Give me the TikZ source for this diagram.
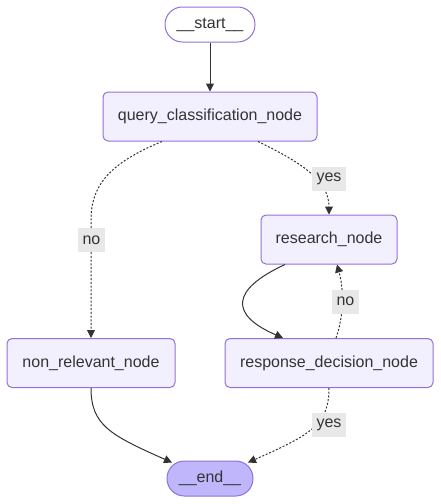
\documentclass[tikz,border=0pt]{standalone}
\usepackage{fontspec}
\setmainfont{Liberation Sans}
\usepackage{xcolor}
\usetikzlibrary{arrows.meta,calc}

\definecolor{nodefill}{HTML}{F2F0FF}
\definecolor{nodeline}{HTML}{9370DB}
\definecolor{endfill}{HTML}{BFB6FC}
\definecolor{edgeline}{HTML}{333333}
\definecolor{labelfill}{HTML}{E8E8E8}

\begin{document}
\begin{tikzpicture}[x=0.75pt,y=0.75pt,yscale=-1,xscale=1,
  box/.style={draw=nodeline, fill=nodefill, line width=0.75pt, rounded corners=3.75pt, minimum height=36.75pt, inner sep=0pt, text=edgeline, font=\fontsize{12}{14}\selectfont},
  term/.style={box, rounded corners=13pt, minimum height=26.25pt},
  edge/.style={draw=edgeline, line width=0.75pt, -{Triangle[length=6pt,width=6pt]}},
  cond/.style={edge, dash pattern=on 1.5pt off 1.3pt},
  tag/.style={fill=labelfill, text=edgeline, inner xsep=3.4pt, inner ysep=0pt, minimum height=18pt, font=\fontsize{12}{14}\selectfont}]
\useasboundingbox (0,0) rectangle (441,504);

%Shape: Stadium
\node[term, fill=white, minimum width=67.5pt] (start) at (210,24.5) {\_\_start\_\_};
%Shape: Rectangle
\node[box, minimum width=160.5pt] (qcn) at (210,116.5) {query\_classification\_node};
%Shape: Rectangle
\node[box, minimum width=102pt] (rn) at (329,239.5) {research\_node};
%Shape: Rectangle
\node[box, minimum width=156pt] (rdn) at (329,363) {response\_decision\_node};
%Shape: Rectangle
\node[box, minimum width=126pt] (nrn) at (91,363) {non\_relevant\_node};
%Shape: Stadium
\node[term, fill=endfill, minimum width=64.5pt] (end) at (210,478.5) {\_\_end\_\_};

%Straight Lines
\draw[edge] (start) -- (qcn);
%Curve Lines
\draw[cond] ($(qcn.south)+(-48,0)$) .. controls (110,163) and (91,185) .. (91,220) -- (nrn.north);
%Curve Lines
\draw[cond] ($(qcn.south)+(48,0)$) .. controls (300,162) and (329,180) .. (rn.north);
%Curve Lines
\draw[edge] ($(rn.south)+(-44,0)$) .. controls (230,290) and (230,315) .. ($(rdn.north)+(-46,0)$);
%Curve Lines
\draw[cond] ($(rdn.north)+(7,0)$) .. controls (344,315) and (344,290) .. ($(rn.south)+(8,0)$);
%Curve Lines
\draw[edge] (nrn.south) .. controls (91,425) and (110,435) .. ($(end.north)+(-38,2)$);
%Curve Lines
\draw[cond] (rdn.south) .. controls (329,425) and (310,435) .. ($(end.north)+(38,2)$);

% Text Node
\node[tag] (no1) at (91.5,240) {no};
% Text Node
\node[tag] (yes1) at (329,178.5) {yes};
% Text Node
\node[tag] (no2) at (345.5,301.5) {no};
% Text Node
\node[tag] (yes2) at (329,425) {yes};

\end{tikzpicture}
\end{document}
